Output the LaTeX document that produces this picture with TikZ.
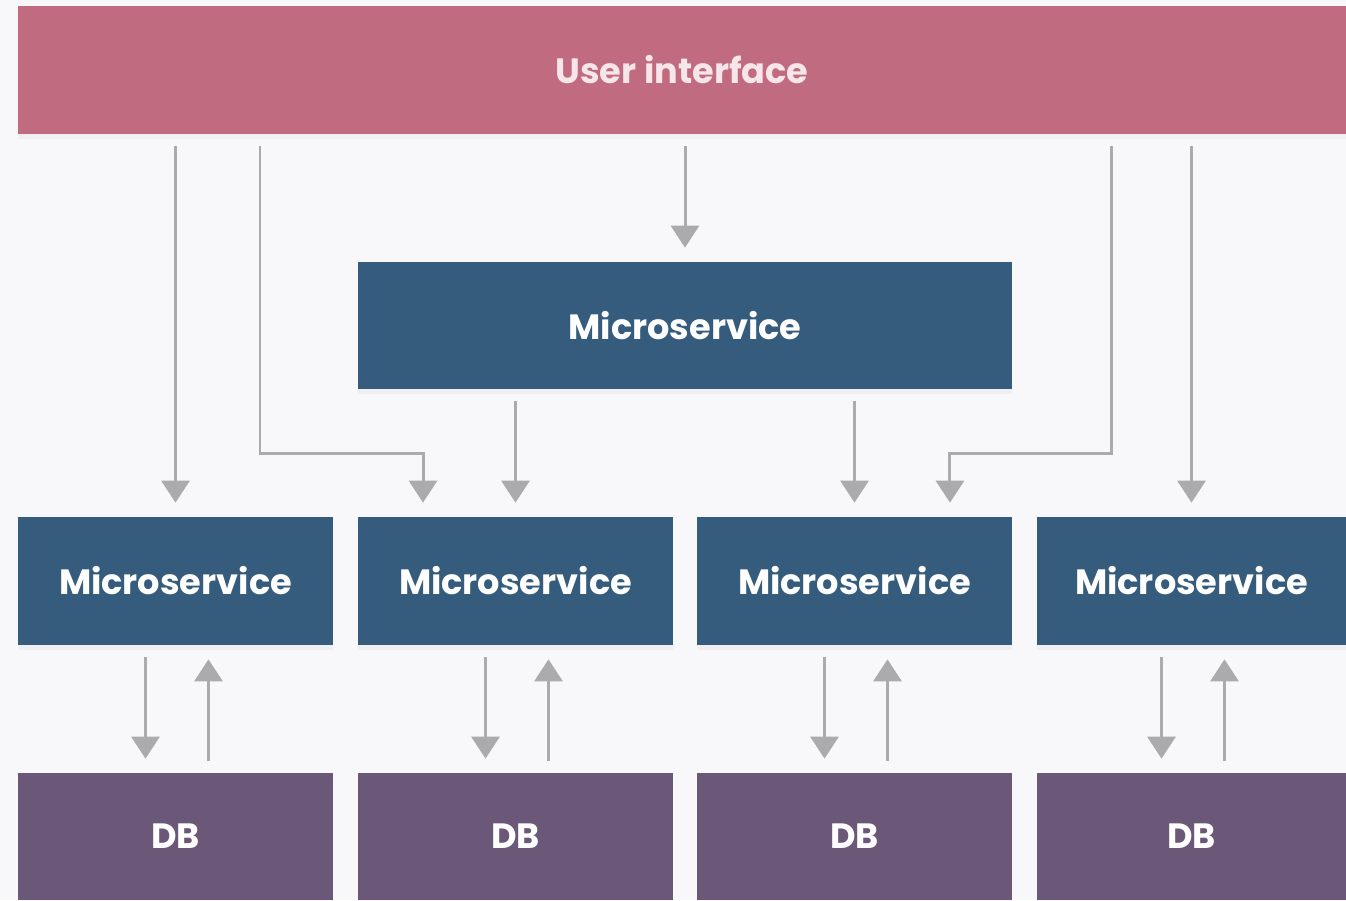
\documentclass[tikz,border=0pt]{standalone}
\usepackage{fontspec}
\setmainfont{Poppins}
\usetikzlibrary{arrows.meta,shadows}
\tikzset{>={Triangle[width=5.6mm,length=4.4mm]}}
\definecolor{bgwhite}{RGB}{248,248,251}
\definecolor{uipink}{RGB}{192,107,128}
\definecolor{uitext}{RGB}{246,230,234}
\definecolor{msblue}{RGB}{53,92,125}
\definecolor{dbpurple}{RGB}{107,88,120}
\definecolor{flowgrey}{RGB}{171,171,174}

\begin{document}
\begin{tikzpicture}[x=0.02cm,y=-0.02cm,
		box/.style={inner sep=0pt,minimum height=2.56cm,text=white,
			font=\fontsize{20}{24}\selectfont\bfseries,
			drop shadow={opacity=0.06,shadow xshift=0pt,shadow yshift=-1mm}},
		flow/.style={->,flowgrey,line width=1.7pt,shorten <=0.24cm,shorten >=0.28cm}]
		% border
		\fill[bgwhite] (0,0) rectangle (1346,900);
		\useasboundingbox (0,0) rectangle (1346,900);
		% user interface on top
		\node[box,fill=uipink,text=uitext,minimum width=26.56cm] (ui) at (682,70) {User interface};
		% shared microservice in the middle
		\node[box,fill=msblue,minimum width=13.08cm,minimum height=2.54cm] (top) at (685,325.5) {Microservice};
		% row of microservices and their databases
		\foreach \i/\x/\w in {1/175.5/6.3,2/515.5/6.3,3/854.5/6.3,4/1191.5/6.18} {
			\node[box,fill=msblue,minimum width=\w cm] (ms\i) at (\x,581) {Microservice};
			\node[box,fill=dbpurple,minimum width=\w cm,minimum height=2.54cm] (db\i) at (\x,836.5) {DB};
		}
		% calls from the user interface
		\coordinate (lbend) at (260,453);
		\coordinate (rbend) at (1111,453);
		\draw[flow] (ui.south -| ms1) -- (ms1.north);
		\draw[flow] (ui.south -| lbend) -- (lbend) -| ([xshift=-1.85cm]ms2.north);
		\draw[flow] (ui.south -| top) -- (top.north);
		\draw[flow] (ui.south -| rbend) -- (rbend) -| ([xshift=1.91cm]ms3.north);
		\draw[flow] (ui.south -| ms4) -- (ms4.north);
		% calls from the shared microservice
		\draw[flow] (top.south -| ms2) -- (ms2.north);
		\draw[flow] (top.south -| ms3) -- (ms3.north);
		% microservice <-> database
		\foreach \i in {1,...,4} {
			\draw[flow] ([xshift=-0.6cm]ms\i.south) -- ([xshift=-0.6cm]db\i.north);
			\draw[flow] ([xshift=0.66cm]db\i.north) -- ([xshift=0.66cm]ms\i.south);
		}
	\end{tikzpicture}
\end{document}
